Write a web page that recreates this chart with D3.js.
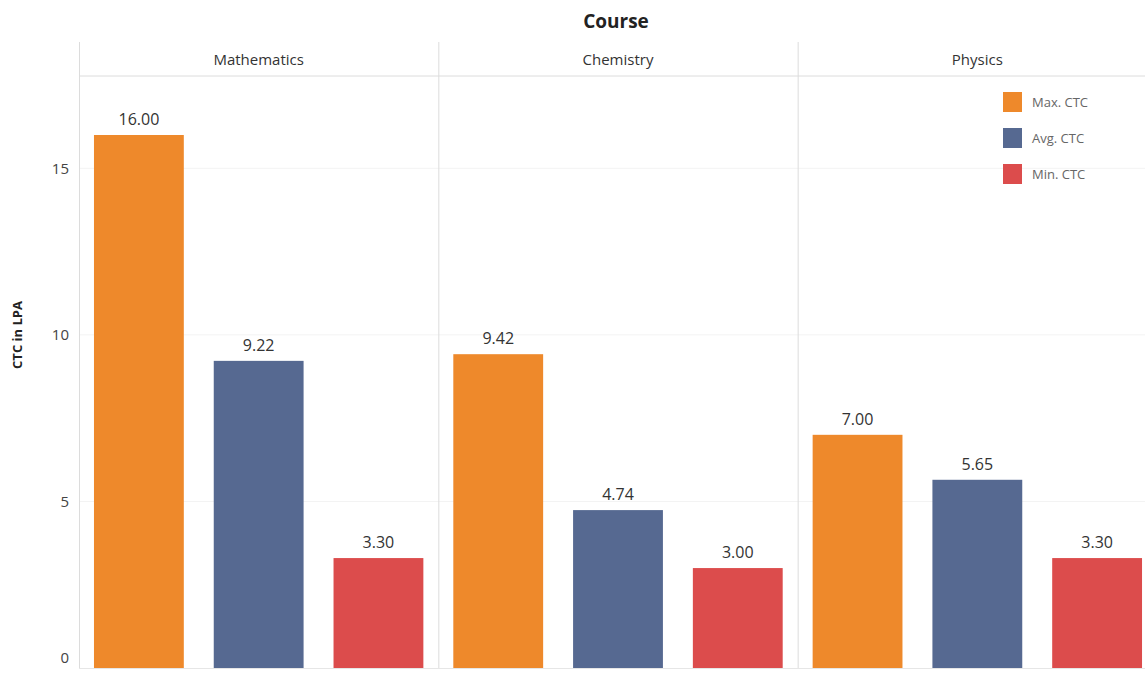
<!DOCTYPE html>
<html><head><meta charset="utf-8">
<script src="https://cdn.jsdelivr.net/npm/d3@7"></script>
<style>body{margin:0;background:#fff;overflow:hidden;} text{font-family:"Open Sans",Lato,sans-serif;}</style>
</head><body>
<svg id="c" width="1145" height="673"></svg>
<script>
const courses = ["Mathematics", "Chemistry", "Physics"];
const measures = ["Max. CTC", "Avg. CTC", "Min. CTC"];
const maxCTC = [16.00, 9.42, 7.00];
const avgCTC = [9.22, 4.74, 5.65];
const minCTC = [3.30, 3.00, 3.30];
const yTicks = [0, 5, 10, 15];
const colors = ["#EE892B", "#566991", "#DC4C4C"];

const series = [maxCTC, avgCTC, minCTC];
const svg = d3.select("#c");
const mLeft = 79, mRight = 1157, mTop = 42, headerBottom = 76, mBottom = 668;

const x0 = d3.scaleBand().domain(courses).range([mLeft, mRight]).padding(0);
const x1 = d3.scaleBand().domain(measures).range([0, x0.bandwidth()]).paddingInner(0.25).paddingOuter(0.125);
const y = d3.scaleLinear().domain([0, 16]).range([mBottom, 135]);

// gridlines
svg.append("g").selectAll("line").data(yTicks.filter(d => d > 0)).join("line")
  .attr("x1", mLeft).attr("x2", mRight).attr("y1", d => y(d)).attr("y2", d => y(d))
  .attr("stroke", "#f3f3f3").attr("stroke-width", 1);

// panel dividers
svg.append("g").selectAll("line").data(courses).join("line")
  .attr("x1", d => x0(d) + 0.5).attr("x2", d => x0(d) + 0.5)
  .attr("y1", mTop).attr("y2", mBottom)
  .attr("stroke", "#dcdcdc");
svg.append("line").attr("x1", mLeft).attr("x2", mRight).attr("y1", headerBottom).attr("y2", headerBottom).attr("stroke", "#dcdcdc");
svg.append("line").attr("x1", mLeft).attr("x2", mRight).attr("y1", mBottom + 0.5).attr("y2", mBottom + 0.5).attr("stroke", "#e6e6e6");

// title
svg.append("text").attr("x", 616).attr("y", 28).attr("text-anchor", "middle")
  .attr("font-size", 19).attr("font-weight", "bold").attr("fill", "#222").text("Course");

// headers
svg.append("g").selectAll("text").data(courses).join("text")
  .attr("x", d => x0(d) + x0.bandwidth() / 2).attr("y", 65).attr("text-anchor", "middle")
  .attr("font-size", 15).attr("fill", "#333").text(d => d);

// y axis
const yAxis = d3.axisLeft(y).tickValues(yTicks).tickSize(0).tickPadding(10).tickFormat(d3.format("d"));
const ga = svg.append("g").attr("transform", `translate(${mLeft},0)`).call(yAxis);
ga.select(".domain").remove();
ga.selectAll("text").attr("font-size", 15).attr("fill", "#444").attr("font-family", "'Open Sans',sans-serif");
ga.selectAll(".tick").filter(d => d === 0).select("text").attr("dy", "-0.4em");

svg.append("text").attr("transform", `translate(22,335) rotate(-90)`)
  .attr("text-anchor", "middle").attr("font-size", 13).attr("font-weight", "bold").attr("fill", "#222").text("CTC in LPA");

// bars
const data = [];
courses.forEach((c, i) => measures.forEach((m, j) => data.push({c, m, v: series[j][i], col: colors[j]})));
svg.append("g").selectAll("rect").data(data).join("rect")
  .attr("x", d => x0(d.c) + x1(d.m)).attr("width", x1.bandwidth())
  .attr("y", d => y(d.v)).attr("height", d => y(0) - y(d.v)).attr("fill", d => d.col);
svg.append("g").selectAll("text").data(data).join("text")
  .attr("x", d => x0(d.c) + x1(d.m) + x1.bandwidth() / 2).attr("y", d => y(d.v) - 10)
  .attr("text-anchor", "middle").attr("font-size", 16).attr("fill", "#333").text(d => d.v.toFixed(2));

// legend
const lg = svg.append("g").attr("transform", "translate(1003,92)");
measures.forEach((m, j) => {
  lg.append("rect").attr("x", 0).attr("y", j * 36).attr("width", 19).attr("height", 20).attr("fill", colors[j]);
  lg.append("text").attr("x", 29).attr("y", j * 36 + 15).attr("font-size", 13).attr("fill", "#666").text(m);
});
</script>
</body></html>
